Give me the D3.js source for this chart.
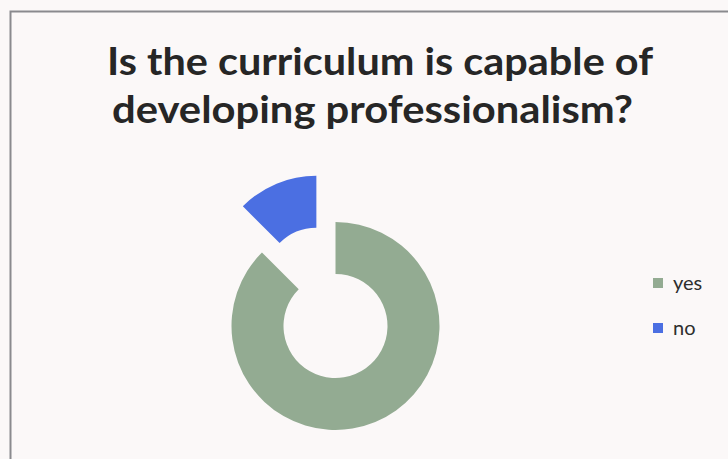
<!DOCTYPE html>
<html>
<head>
<meta charset="utf-8">
<script src="https://cdn.jsdelivr.net/npm/d3@7/dist/d3.min.js"></script>
<style>
html,body{margin:0;padding:0;background:#fbf8f8;}
svg{display:block;}
</style>
</head>
<body>
<svg id="chart" width="728" height="459"></svg>
<script>
const categories = ["yes", "no"];
const values = [35, 5];
const colors = ["#93ab92", "#4b6fe2"];
const titleLines = ["Is the curriculum is capable of", "developing professionalism?"];

const svg = d3.select("#chart");
svg.append("rect").attr("width", 728).attr("height", 459).attr("fill", "#fbf8f8");
// frame
svg.append("path").attr("d", "M10.5,459 L10.5,11.5 L728,11.5")
  .attr("fill", "none").attr("stroke", "#8a8a8e").attr("stroke-width", 2);

// title
const tl = [{x: 107, y: 75, w: 546}, {x: 112, y: 123, w: 521}];
svg.selectAll("text.title").data(titleLines).enter().append("text")
  .attr("class", "title")
  .attr("x", (d, i) => tl[i].x).attr("y", (d, i) => tl[i].y)
  .attr("textLength", (d, i) => tl[i].w)
  .attr("lengthAdjust", "spacingAndGlyphs")
  .attr("font-family", "Lato, 'Open Sans', sans-serif")
  .attr("font-weight", "bold").attr("font-size", 38)
  .attr("fill", "#262626").text(d => d);

// donut
const cx = 335.5, cy = 326, rOut = 104, rIn = 52, explode = 50;
const pie = d3.pie().sort(null).value(d => d.v);
const data = categories.map((c, i) => ({c, v: values[i], col: colors[i]}));
const arcs = pie(data);
const arc = d3.arc().innerRadius(rIn).outerRadius(rOut);
const g = svg.append("g").attr("transform", `translate(${cx},${cy})`);
g.selectAll("path").data(arcs).enter().append("path")
  .attr("d", arc)
  .attr("fill", d => d.data.col)
  .attr("transform", d => {
    if (d.data.c !== "no") return null;
    const a = (d.startAngle + d.endAngle) / 2;
    return `translate(${Math.sin(a) * explode},${-Math.cos(a) * explode})`;
  });

// legend
const lg = svg.append("g").attr("transform", "translate(653,278)");
const items = lg.selectAll("g").data(data).enter().append("g")
  .attr("transform", (d, i) => `translate(0,${i * 45})`);
items.append("rect").attr("width", 10).attr("height", 10).attr("fill", d => d.col);
items.append("text").attr("x", 20).attr("y", 12)
  .attr("font-family", "Lato, 'Open Sans', sans-serif").attr("font-size", 20)
  .attr("fill", "#2e2e2e").text(d => d.c);
</script>
</body>
</html>
